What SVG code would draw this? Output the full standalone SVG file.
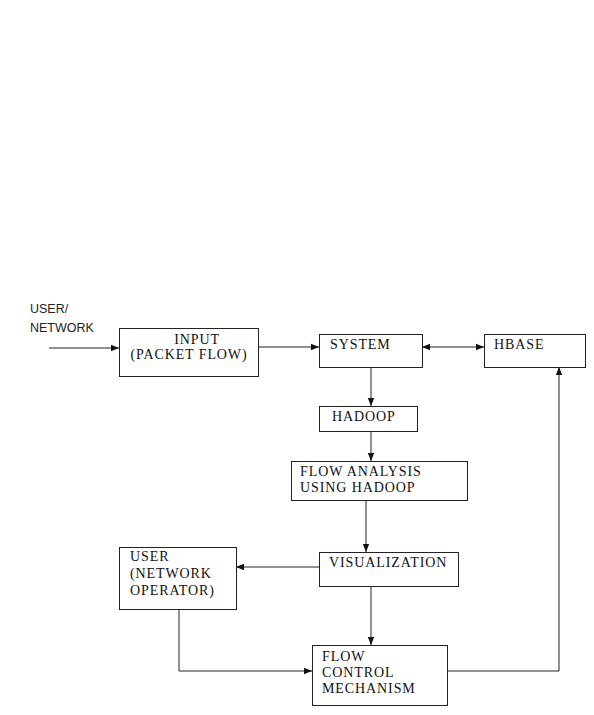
<svg xmlns="http://www.w3.org/2000/svg" width="594" height="715" viewBox="0 0 594 715">
<style>
.box{fill:#fff;stroke:#222;stroke-width:1}
.t{font-family:"Liberation Serif","Times New Roman",serif;font-size:14px;letter-spacing:0.9px;fill:#111}
.s{font-family:"Liberation Sans",Arial,sans-serif;font-size:12.5px;fill:#222}
.c{fill:none;stroke:#222;stroke-width:1}
</style>
<defs>
<marker id="ah" viewBox="0 0 10 10" refX="10" refY="5" markerWidth="8" markerHeight="8" markerUnits="userSpaceOnUse" orient="auto-start-reverse">
<path d="M0,1 L10,5 L0,9 Z" fill="#111"/>
</marker>
</defs>
<rect width="594" height="715" fill="#fff"/>
<g id="connectors">
<line class="c" x1="49" y1="348" x2="119" y2="348" marker-end="url(#ah)"/>
<line class="c" x1="259" y1="347" x2="319" y2="347" marker-end="url(#ah)"/>
<line class="c" x1="422" y1="347" x2="484" y2="347" marker-start="url(#ah)" marker-end="url(#ah)"/>
<line class="c" x1="371" y1="367" x2="371" y2="406" marker-end="url(#ah)"/>
<line class="c" x1="371" y1="431" x2="371" y2="461" marker-end="url(#ah)"/>
<line class="c" x1="366" y1="501" x2="366" y2="552" marker-end="url(#ah)"/>
<line class="c" x1="319" y1="567" x2="236" y2="567" marker-end="url(#ah)"/>
<line class="c" x1="371" y1="587" x2="371" y2="645" marker-end="url(#ah)"/>
<polyline class="c" points="179,609 179,671 312,671" marker-end="url(#ah)"/>
<polyline class="c" points="447,671 559,671 559,367" marker-end="url(#ah)"/>
</g>
<g id="user-network-label">
<text class="s" x="30" y="313">USER/</text>
<text class="s" x="30" y="332">NETWORK</text>
</g>
<g id="input">
<rect class="box" x="119.5" y="328.5" width="139" height="48"/>
<text class="t" x="197" y="344" text-anchor="middle">INPUT</text>
<text class="t" x="189" y="359" text-anchor="middle">(PACKET FLOW)</text>
</g>
<g id="system">
<rect class="box" x="319.5" y="334.5" width="103" height="33"/>
<text class="t" x="330" y="349">SYSTEM</text>
</g>
<g id="hbase">
<rect class="box" x="484.5" y="334.5" width="101" height="33"/>
<text class="t" x="494" y="349">HBASE</text>
</g>
<g id="hadoop">
<rect class="box" x="319.5" y="406.5" width="98" height="25"/>
<text class="t" x="332" y="421">HADOOP</text>
</g>
<g id="flow-analysis">
<rect class="box" x="291.5" y="461.5" width="176" height="39"/>
<text class="t" x="300" y="476">FLOW ANALYSIS</text>
<text class="t" x="300" y="492">USING HADOOP</text>
</g>
<g id="visualization">
<rect class="box" x="319.5" y="552.5" width="139" height="34"/>
<text class="t" x="329" y="567">VISUALIZATION</text>
</g>
<g id="user-operator">
<rect class="box" x="119.5" y="547.5" width="117" height="62"/>
<text class="t" x="130" y="561">USER</text>
<text class="t" x="130" y="578">(NETWORK</text>
<text class="t" x="130" y="595">OPERATOR)</text>
</g>
<g id="flow-control">
<rect class="box" x="312.5" y="645.5" width="135" height="60"/>
<text class="t" x="322" y="661">FLOW</text>
<text class="t" x="322" y="677">CONTROL</text>
<text class="t" x="322" y="693">MECHANISM</text>
</g>
</svg>
